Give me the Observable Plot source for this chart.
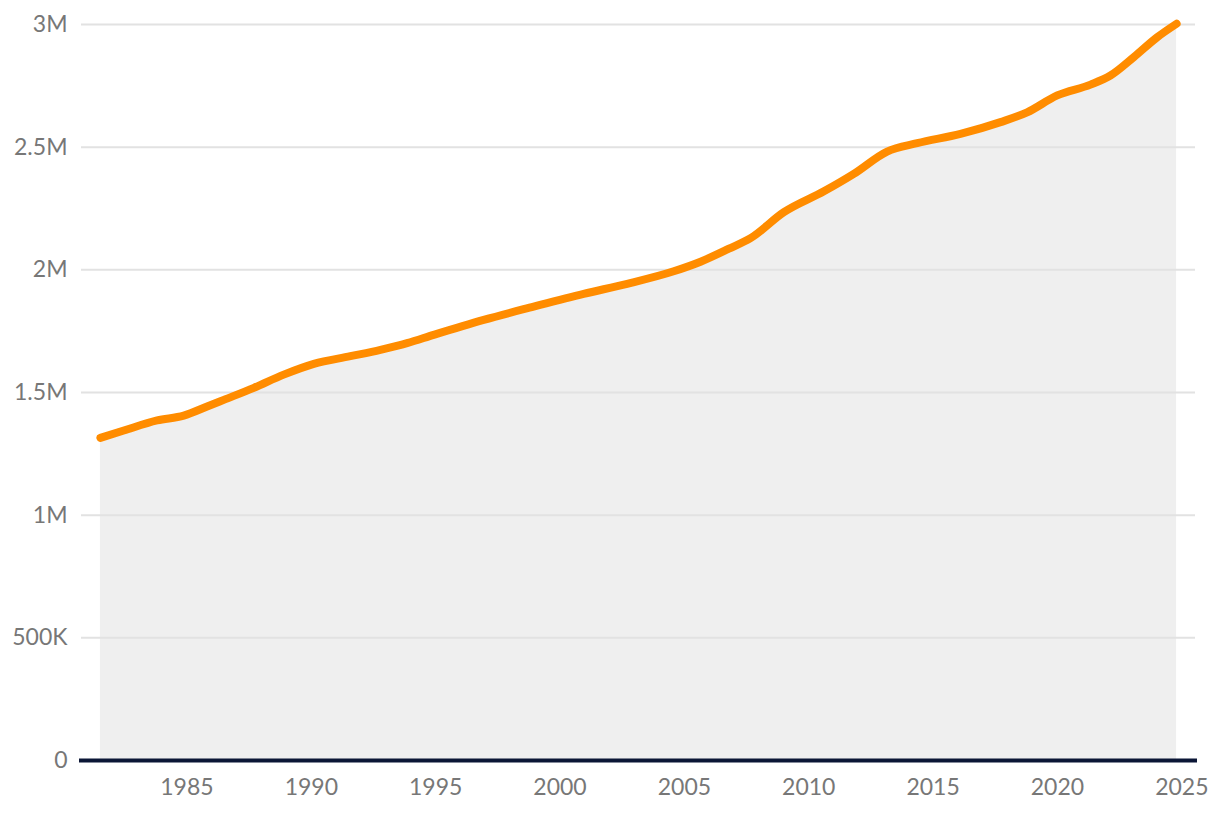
<!DOCTYPE html>
<html>
<head>
<meta charset="utf-8">
<script src="https://cdn.jsdelivr.net/npm/d3@7"></script>
<script src="https://cdn.jsdelivr.net/npm/@observablehq/plot@0.6"></script>
<style>
  html, body { margin: 0; padding: 0; background: #fff; }
  #chart svg { display: block; }
</style>
</head>
<body>
<div id="chart"></div>
<script>
const years = [1981.52, 1982.46, 1983.8, 1984.87, 1985.81, 1986.48, 1987.69, 1988.89, 1990.1, 1991.57,
  1992.78, 1993.85, 1994.92, 1996.93, 1998.94, 2000.95, 2002.7, 2004.57, 2005.65, 2006.79,
  2007.66, 2009.0, 2010.61, 2011.81, 2013.15, 2014.36, 2016.1, 2017.71, 2018.78, 2019.99,
  2021.33, 2022.13, 2023.07, 2024.01, 2024.79];
const values = [1315000, 1345000, 1386000, 1406000, 1443000, 1470000, 1519000, 1573000, 1617000, 1648000,
  1674000, 1701000, 1735000, 1796000, 1850000, 1902000, 1943000, 1994000, 2033000, 2086000,
  2129000, 2235000, 2320000, 2391000, 2482000, 2516000, 2554000, 2602000, 2642000, 2711000,
  2755000, 2792000, 2867000, 2948000, 3003000];
const xTicks = [1985, 1990, 1995, 2000, 2005, 2010, 2015, 2020, 2025];
const yTicks = [0, 500000, 1000000, 1500000, 2000000, 2500000, 3000000];
const yLabels = ["0", "500K", "1M", "1.5M", "2M", "2.5M", "3M"];

const data = years.map((y, i) => ({year: y, value: values[i]}));

const chart = Plot.plot({
  width: 1220,
  height: 814,
  marginTop: 24,
  marginBottom: 54,
  marginLeft: 81,
  marginRight: 25,
  style: {fontFamily: "Lato, sans-serif", fontSize: "23px", color: "#777", background: "#fff"},
  x: {domain: [1980.76, 2025.55]},
  y: {domain: [0, 3000000]},
  marks: [
    Plot.areaY(data, {x: "year", y: "value", fill: "#efefef", curve: "monotone-x"}),
    Plot.gridY(yTicks.slice(1), {stroke: "#e2e2e2", strokeOpacity: 1, strokeWidth: 2}),
    Plot.axisY(yTicks, {tickSize: 0, tickPadding: 14, label: null, fill: "#777",
      tickFormat: (d, i) => yLabels[yTicks.indexOf(d)]}),
    Plot.axisX(xTicks, {tickSize: 0, tickPadding: 18, label: null, fill: "#777", tickFormat: d => String(d)}),
    Plot.ruleY([0], {stroke: "#0b1636", strokeWidth: 4, insetLeft: -2, insetRight: -2}),
    Plot.lineY(data, {x: "year", y: "value", stroke: "#ff8c00", strokeWidth: 8,
      strokeLinecap: "round", strokeLinejoin: "round", curve: "monotone-x"})
  ]
});
document.getElementById("chart").appendChild(chart);
</script>
</body>
</html>
